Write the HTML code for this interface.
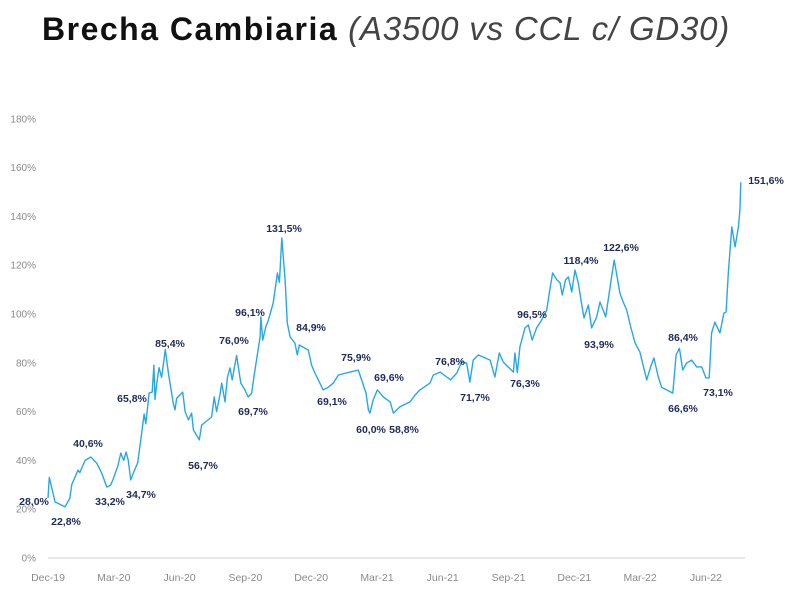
<!DOCTYPE html>
<html><head><meta charset="utf-8">
<style>
html,body{margin:0;padding:0;background:#fff;}
body{width:800px;height:616px;overflow:hidden;position:relative;font-family:"Liberation Sans",sans-serif;}
#title{position:absolute;left:42px;top:10px;white-space:nowrap;}
#title .b{font-weight:bold;font-size:32px;color:#111;letter-spacing:1.5px;}
#title .i{font-style:italic;font-size:33px;color:#444;margin-left:10px;letter-spacing:0.8px;}
svg{position:absolute;left:0;top:0;}
</style></head><body>
<div id="title"><span class="b">Brecha Cambiaria</span><span class="i">(A3500 vs CCL c/ GD30)</span></div>
<svg id="chart" width="800" height="616"></svg>
<script>
const xTickLabels=["Dec-19","Mar-20","Jun-20","Sep-20","Dec-20","Mar-21","Jun-21","Sep-21","Dec-21","Mar-22","Jun-22"];
const yTicks=[0,20,40,60,80,100,120,140,160,180];
const months=[0,0.06,0.23,0.32,0.62,0.78,1.0,1.08,1.37,1.45,1.69,1.95,2.22,2.45,2.68,2.85,2.96,3.19,3.32,3.45,3.56,3.66,3.77,3.9,4.09,4.27,4.38,4.46,4.61,4.75,4.83,4.88,4.96,5.06,5.18,5.35,5.49,5.71,5.79,5.87,6.14,6.25,6.4,6.55,6.63,6.9,7.01,7.46,7.58,7.69,7.84,7.92,8.07,8.18,8.3,8.4,8.6,8.79,8.98,9.13,9.29,9.39,9.67,9.71,9.79,9.93,10.05,10.27,10.46,10.55,10.66,10.81,10.91,11.04,11.26,11.37,11.46,11.87,12.02,12.17,12.55,12.78,13.01,13.24,13.77,14.15,14.3,14.5,14.61,14.68,14.83,15.02,15.29,15.6,15.75,15.9,16.05,16.51,16.74,16.96,17.42,17.57,17.88,18.18,18.36,18.64,18.86,19.09,19.24,19.39,19.62,19.93,20.16,20.38,20.58,20.76,21.22,21.29,21.4,21.52,21.75,21.9,22.08,22.28,22.51,22.74,22.86,23.01,23.2,23.35,23.45,23.6,23.73,23.88,24.03,24.18,24.34,24.44,24.64,24.79,25.02,25.17,25.43,25.7,25.82,25.96,26.08,26.23,26.39,26.57,26.77,26.99,27.3,27.48,27.63,27.83,27.98,28.21,28.49,28.64,28.79,28.94,29.12,29.35,29.58,29.81,30.0,30.15,30.26,30.41,30.64,30.82,30.92,31.02,31.18,31.33,31.48,31.55,31.59];
const values=[24.6,33,26.6,23,21.7,21,24.6,30,36,35,40,41.4,38.9,34.8,29.1,29.8,32,38,43,40,43.4,40,32,35,39,51,59,55,67.6,68,79,65,71.6,78,74,85.4,75.8,63.5,60.7,65.5,68,60,56.6,59.4,52.5,48.4,54.5,57.8,66,60,66.8,71.7,64,74,77.9,73,83,71.7,68.9,66,67.6,74.2,90.6,98.8,89.3,94.7,97.5,104.5,116.8,113,131.1,114,96.3,90.6,88.1,83.2,87.3,85.2,79,75.8,68.9,70,71.7,75,76.2,77,73,67.6,60.7,59.4,64.8,68.9,66,64,59.4,60.7,62,64,66.8,68.9,71.7,75,76.2,74.2,73,75.8,80.3,79.9,72.1,81.1,83.2,82,81.1,74.2,84,80.3,76.2,84,76,86.5,94.3,95.5,89.3,94.3,97.5,101.6,108.6,116.8,114,112.7,107.8,114,115.2,109,118,112.7,103.7,98.4,103.7,94.3,98.8,104.9,98.8,115.2,122.1,114.8,108.6,104.9,101.6,94.7,88.1,84.4,73,78.3,82,74.2,70,68.9,67.6,83.2,86,77,79.9,81.1,78.3,78.3,73.8,73.8,92.2,96.7,92.2,100.4,100.8,116.8,135.7,127.5,135.7,142.6,154];
const annotText=["28,0%","22,8%","40,6%","33,2%","34,7%","65,8%","85,4%","56,7%","76,0%","96,1%","69,7%","131,5%","84,9%","69,1%","75,9%","60,0%","58,8%","69,6%","76,8%","71,7%","76,3%","96,5%","118,4%","122,6%","93,9%","86,4%","66,6%","73,1%","151,6%"];
const annotPos=[[34,501],[66,521],[88,443],[110,501],[141,494],[132,398],[170,343],[203,465],[234,340],[250,312],[253,411],[284,228],[311,327],[332,401],[356,357],[371,429],[404,429],[389,377],[450,361],[475,397],[525,383],[532,314],[581,260],[621,247],[599,344],[683,337],[683,408],[718,392],[766,180]];

const svg=document.getElementById('chart');
const NS='http://www.w3.org/2000/svg';
const X0=48, MPX=21.93, Y0=558, VPX=2.44;
function xScale(m){return X0+m*MPX;}
function yScale(v){return Y0-v*VPX;}
function mk(tag,attrs,txt){const e=document.createElementNS(NS,tag);for(const k in attrs)e.setAttribute(k,attrs[k]);if(txt!==undefined)e.textContent=txt;svg.appendChild(e);return e;}

const axis=mk('line',{x1:48,y1:Y0,x2:745,y2:Y0,stroke:'#d9d9d9','stroke-width':1.2});



yTicks.forEach(v=>{
  const t=mk('text',{x:36,y:yScale(v)+3.5,'text-anchor':'end','font-size':10,fill:'#8a8a8a'},v+'%');
  
  
});
xTickLabels.forEach((l,i)=>{
  const t=mk('text',{x:xScale(i*3),y:581,'text-anchor':'middle','font-size':10.5,fill:'#8a8a8a'},l);
  
  
});

let d='';
months.forEach((m,i)=>{d+=(i?'L':'M')+xScale(m).toFixed(1)+' '+yScale(values[i]).toFixed(1);});
const line=mk('path',{d:d,fill:'none',stroke:'#2aa7e1','stroke-width':1.4,'stroke-linejoin':'round'});



annotText.forEach((s,i)=>{
  const t=mk('text',{x:annotPos[i][0],y:annotPos[i][1]+4,'text-anchor':'middle','font-size':10.5,'font-weight':'bold',fill:'#1f2a5c'},s);
  
  
});
</script>
</body></html>
